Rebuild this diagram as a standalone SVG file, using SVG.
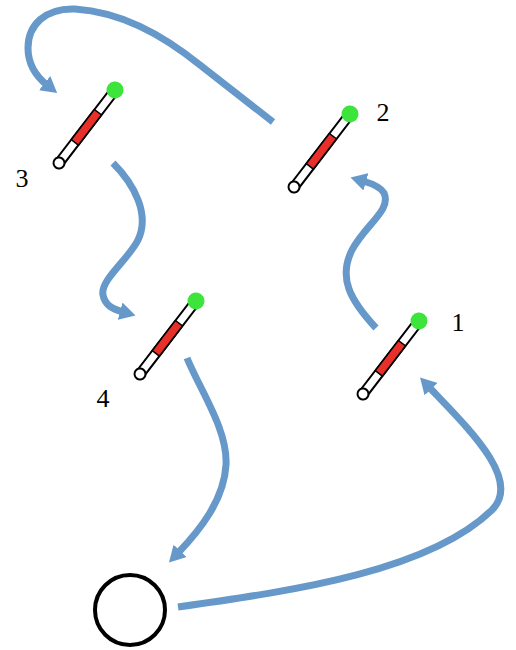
<svg xmlns="http://www.w3.org/2000/svg" width="516" height="650" viewBox="0 0 516 650">
  <style>
    .conn { fill: none; stroke: #6699c9; stroke-width: 7; stroke-linecap: butt; }
    .rod { fill: #ffffff; stroke: #000000; stroke-width: 2; }
    .red { fill: #e8302a; stroke: #000000; stroke-width: 1.5; }
    .tip { fill: #ffffff; stroke: #000000; stroke-width: 2; }
    .bulb { fill: #3ce43c; }
    .lbl { font-family: "Liberation Serif", "DejaVu Serif", serif; font-size: 26px; fill: #000000; text-anchor: middle; }
  </style>
  <defs>
    <marker id="ah" markerUnits="userSpaceOnUse" viewBox="0 0 16 18" markerWidth="16" markerHeight="18" refX="3" refY="9" orient="auto">
      <path d="M0,0 L16,9 L0,18 z" fill="#6699c9"/>
    </marker>
    <g id="thermo">
      <rect class="rod" x="0" y="-4.5" width="86" height="9"/>
      <rect class="red" x="26" y="-4.5" width="38" height="9"/>
      <circle class="tip" cx="0" cy="0" r="5.5"/>
      <circle class="bulb" cx="92" cy="0" r="8.5"/>
    </g>
  </defs>

  <g id="connectors">
    <path class="conn" marker-end="url(#ah)" d="M178,607 C 300,590 430,570 492,510 C 522,480 470,430 429,387"/>
    <path class="conn" marker-end="url(#ah)" d="M376,328 C 350,300 338,278 352,250 C 365,225 392,210 384,193 C 380,186 370,183 363,181"/>
    <path class="conn" marker-end="url(#ah)" d="M273,122 L 200,65 C 160,33 120,12 75,9 C 45,8 28,25 28,48 C 28,65 37,77 47,85"/>
    <path class="conn" marker-end="url(#ah)" d="M113,163 C 135,185 150,215 138,240 C 128,260 100,280 103,295 C 105,305 112,309 123,312"/>
    <path class="conn" marker-end="url(#ah)" d="M187,358 C 200,390 228,430 226,465 C 224,500 200,530 178,553"/>
  </g>

  <g id="node1">
    <use href="#thermo" transform="translate(363,394) rotate(-52.5)"/>
    <text class="lbl" x="458" y="331">1</text>
  </g>
  <g id="node2">
    <use href="#thermo" transform="translate(294,187) rotate(-52.5)"/>
    <text class="lbl" x="383" y="121">2</text>
  </g>
  <g id="node3">
    <use href="#thermo" transform="translate(59,163) rotate(-52.5)"/>
    <text class="lbl" x="22" y="187">3</text>
  </g>
  <g id="node4">
    <use href="#thermo" transform="translate(140,374) rotate(-52.5)"/>
    <text class="lbl" x="103" y="407">4</text>
  </g>
  <g id="start">
    <circle cx="130" cy="610" r="35" fill="none" stroke="#000000" stroke-width="4"/>
  </g>
</svg>
